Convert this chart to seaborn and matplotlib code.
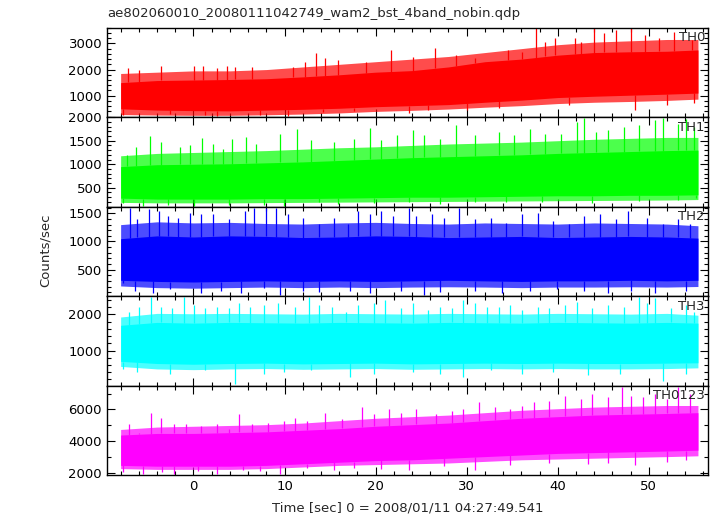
import numpy as np
import pandas as pd
import matplotlib
matplotlib.use("Agg")
import matplotlib.pyplot as plt
import seaborn as sns
from matplotlib.ticker import MultipleLocator

# ================== data ==================
# time grid [sec] for the envelopes of each light curve
grid_t = [-8, -4, 0, 4, 8, 12, 16, 20, 24, 28, 32, 36, 40, 44, 48, 52, 55.4]

# TH0: dense core, pale fringe, single spikes / dips
th0_top = [1500, 1580, 1600, 1620, 1650, 1720, 1800, 1900, 1960, 2100, 2300, 2400, 2550, 2650, 2680, 2700, 2750]
th0_bot = [500, 450, 430, 420, 450, 480, 520, 580, 620, 660, 750, 830, 930, 980, 1020, 1060, 1100]
th0_fr_top = [1850, 1900, 1950, 1950, 2000, 2100, 2200, 2300, 2400, 2500, 2650, 2800, 2950, 3050, 3100, 3150, 3150]
th0_fr_bot = [280, 260, 250, 250, 270, 300, 340, 400, 440, 490, 560, 620, 700, 750, 780, 820, 870]
th0_spike_t = [-7.18, -5.98, -3.62, 0.03, 1.10, 2.60, 3.67, 4.53, 6.46, 10.97, 12.26, 13.42, 14.40, 15.91,
               18.91, 21.70, 24.06, 26.55, 28.78, 30.93, 34.58, 36.08, 37.58, 38.65, 39.73, 41.87, 42.52,
               44.02, 45.09, 46.38, 48.09, 49.60, 51.10, 52.82, 54.75]
th0_spike_v = [2050, 1990, 2140, 2150, 2150, 2050, 2150, 2090, 2090, 2110, 2300, 2620, 2430, 2370,
               2300, 2750, 2490, 2810, 2560, 2460, 2750, 2680, 3570, 3070, 3190, 3220, 3070,
               3570, 3380, 3510, 3570, 3320, 3190, 3440, 3130]
th0_dip_t = [-7.7, -2.55, 1.31, 2.6, 7.32, 10.33, 14.19, 17.62, 23.63, 25.78, 30.07, 33.5, 41.23, 48.52, 51.96, 54.96]
th0_dip_v = [280, 300, 250, 215, 250, 215, 380, 405, 340, 470, 470, 530, 660, 470, 660, 720]

# TH1
th1_top = [950, 990, 1000, 1010, 1030, 1050, 1080, 1110, 1140, 1160, 1180, 1200, 1230, 1250, 1270, 1290, 1300]
th1_bot = [280, 260, 260, 260, 270, 270, 280, 290, 300, 300, 310, 320, 330, 330, 340, 340, 350]
th1_fr_top = [1180, 1230, 1250, 1270, 1290, 1320, 1350, 1370, 1400, 1430, 1450, 1470, 1500, 1530, 1550, 1570, 1570]
th1_fr_bot = [190, 180, 180, 180, 185, 190, 195, 200, 205, 210, 215, 220, 225, 230, 235, 240, 250]
th1_spike_t = [-7.27, -6.33, -4.78, -3.62, -1.48, -0.40, 0.97, 2.17, 3.24, 4.23, 5.82, 6.89, 9.47, 11.40,
               12.90, 15.48, 17.62, 19.34, 20.63, 22.34, 24.06, 25.35, 27.06, 28.78, 30.93, 33.50, 35.22,
               36.93, 38.65, 40.37, 42.09, 42.94, 44.23, 45.52, 47.24, 48.95, 50.67, 51.53, 53.25, 54.10, 54.96]
th1_spike_v = [1193, 1370, 1603, 1476, 1370, 1419, 1560, 1440, 1334, 1532, 1582, 1440, 1652, 1744,
               1511, 1476, 1546, 1773, 1511, 1617, 1723, 1617, 1546, 1829, 1617, 1688, 1617,
               1758, 1652, 1652, 1900, 1985, 1688, 1723, 1794, 1829, 1935, 1985, 1864, 1970, 1794]
th1_dip_t = [-7.7, -5.55, -2.76, 0.03, 3.89, 7.75, 9.9, 13.76, 15.91, 19.77, 23.63, 27.06, 30.93, 34.36,
             38.22, 43.8, 48.95, 53.25, 55.18]
th1_dip_v = [168, 118, 132, 110, 132, 132, 118, 189, 146, 168, 189, 146, 189, 203, 189, 168, 217, 238, 274]

# TH2
th2_top = [1050, 1100, 1080, 1100, 1090, 1070, 1080, 1100, 1090, 1070, 1080, 1090, 1070, 1080, 1090, 1080, 1060]
th2_bot = [310, 290, 280, 290, 300, 290, 300, 290, 300, 310, 300, 290, 300, 300, 310, 300, 310]
th2_fr_top = [1300, 1350, 1330, 1340, 1320, 1310, 1330, 1340, 1320, 1310, 1330, 1320, 1310, 1330, 1320, 1310, 1280]
th2_fr_bot = [210, 180, 170, 180, 190, 180, 190, 180, 190, 195, 190, 180, 190, 190, 195, 190, 200]
th2_spike_t = [-6.93, -6.2, -4.91, -3.84, -2.76, -1.69, -0.39, 0.88, 2.17, 3.89, 5.61, 6.68, 7.97, 9.04,
               10.33, 12.05, 13.76, 15.48, 16.98, 18.05, 19.34, 20.63, 21.91, 23.63, 24.49, 26.21, 27.49,
               29.21, 30.93, 32.64, 34.36, 36.08, 37.79, 39.51, 41.23, 42.94, 44.66, 46.38, 47.67, 49.81,
               51.53, 53.25, 54.53]
th2_spike_v = [1600, 1395, 1570, 1541, 1454, 1424, 1512, 1483, 1483, 1395, 1541, 1600, 1600, 1600,
               1483, 1424, 1307, 1424, 1307, 1541, 1483, 1541, 1454, 1600, 1454, 1483, 1424,
               1600, 1395, 1424, 1337, 1483, 1512, 1366, 1307, 1454, 1483, 1395, 1541, 1424,
               1307, 1395, 1307]
th2_dip_t = [-7.7, -6.41, -4.48, -2.55, 0.88, 3.03, 5.18, 7.75, 9.47, 12.05, 13.76, 17.19, 19.34, 22.77,
             25.35, 27.06, 30.93, 33.93, 36.93, 39.94, 42.94, 45.52, 48.09, 50.67, 54.10]
th2_dip_v = [254, 126, 79, 149, 90, 126, 79, 167, 50, 126, 108, 126, 79, 126, 50, 108, 126, 90, 126,
             149, 126, 79, 126, 90, 126]

# TH3
th3_top = [1700, 1780, 1760, 1780, 1770, 1760, 1780, 1770, 1760, 1780, 1770, 1760, 1780, 1770, 1760, 1780, 1760]
th3_bot = [700, 640, 620, 640, 650, 630, 640, 650, 630, 640, 650, 640, 650, 640, 640, 650, 660]
th3_fr_top = [1930, 2030, 2020, 2030, 2020, 2010, 2030, 2020, 2010, 2030, 2020, 2010, 2030, 2020, 2010, 2030, 1980]
th3_fr_bot = [560, 490, 470, 490, 500, 480, 490, 500, 480, 490, 500, 490, 500, 490, 490, 500, 520]
th3_spike_t = [-7.05, -5.98, -4.69, -3.62, -2.33, -1.05, 0.03, 1.31, 2.60, 3.89, 4.96, 6.25, 7.75, 9.25,
               11.18, 12.69, 13.76, 15.26, 16.76, 18.05, 19.77, 21.06, 22.77, 24.06, 25.78, 27.06, 28.35,
               29.64, 30.93, 32.21, 33.50, 34.79, 36.08, 37.79, 39.08, 40.80, 42.09, 43.80, 45.52, 47.24,
               48.95, 49.81, 50.67, 52.39, 54.10, 54.96]
th3_spike_v = [2074, 2213, 2491, 2213, 2167, 2491, 2259, 2167, 2213, 2167, 2306, 2213, 2259, 2306,
               2213, 2491, 2259, 2213, 2074, 2259, 2306, 2398, 2167, 2306, 2120, 2213, 2167,
               2398, 2306, 2213, 2213, 2259, 2120, 2213, 2167, 2259, 2352, 2167, 2259, 2213,
               2491, 2306, 2445, 2167, 2259, 2074]
th3_dip_t = [-7.7, -6.2, -2.55, 1.31, 4.53, 7.75, 9.9, 12.9, 17.19, 19.77, 24.06, 27.06, 29.64, 32.64,
             36.08, 39.51, 43.37, 46.81, 51.53, 54.10]
th3_dip_v = [500, 407, 361, 454, 65, 361, 407, 454, 268, 361, 407, 361, 268, 454, 361, 407, 315, 361, 157, 361]

# TH0123
th0123_top = [4400, 4500, 4500, 4550, 4600, 4700, 4800, 4950, 5050, 5150, 5300, 5450, 5550, 5650, 5700, 5750, 5800]
th0123_bot = [2500, 2450, 2450, 2450, 2500, 2600, 2700, 2800, 2850, 2950, 3050, 3150, 3250, 3300, 3350, 3400, 3450]
th0123_fr_top = [4750, 4900, 4950, 5000, 5050, 5150, 5300, 5450, 5550, 5650, 5800, 5950, 6050, 6150, 6200, 6250, 6250]
th0123_fr_bot = [2300, 2250, 2250, 2250, 2300, 2400, 2500, 2550, 2600, 2650, 2750, 2850, 2900, 2950, 3000, 3050, 3100]
th0123_spike_t = [-7.05, -5.98, -4.69, -3.62, -2.12, -0.83, 0.88, 2.60, 3.89, 4.96, 6.46, 8.18, 9.90, 11.18,
                  12.47, 14.40, 16.33, 18.48, 19.77, 21.49, 22.77, 24.49, 26.64, 28.35, 29.64, 31.36, 33.07,
                  34.79, 36.08, 37.36, 39.08, 40.80, 42.52, 43.80, 45.52, 47.02, 48.09, 49.38, 50.67, 51.96,
                  53.25, 54.53]
th0123_spike_v = [5073, 4547, 5810, 5494, 5073, 5073, 4968, 5073, 4758, 5705, 5073, 5179, 5284, 5494,
                  5284, 5810, 5389, 6126, 5705, 6021, 5810, 6021, 5705, 5915, 6021, 6442, 6126,
                  6021, 6231, 6442, 6547, 6863, 6652, 6968, 6757, 7389, 6863, 6757, 6968, 6652,
                  7389, 6968]
th0123_dip_t = [-7.7, -5.55, -3.41, -2.12, 0.45, 2.60, 5.39, 7.32, 9.47, 12.47, 15.48, 17.62, 20.63, 23.63,
                27.49, 30.93, 34.79, 39.08, 43.37, 45.52, 48.52, 51.96, 54.10]
th0123_dip_v = [2063, 1979, 2063, 1979, 2126, 1979, 2189, 2126, 1979, 2337, 2189, 2337, 2274, 2189,
                2442, 2189, 2547, 2653, 2610, 2653, 2547, 2695, 2863]

band_names = ["TH0", "TH1", "TH2", "TH3", "TH0123"]
band_colors = ["#ff0000", "#00ff00", "#0000ff", "#00ffff", "#ff00ff"]
band_ylims = [(180, 3600), (100, 2000), (30, 1620), (30, 2510), (1900, 7500)]
band_major = [1000, 500, 500, 1000, 2000]
band_minor = [200, 100, 100, 200, 1000]

cores = [(th0_top, th0_bot), (th1_top, th1_bot), (th2_top, th2_bot), (th3_top, th3_bot), (th0123_top, th0123_bot)]
fringes = [(th0_fr_top, th0_fr_bot), (th1_fr_top, th1_fr_bot), (th2_fr_top, th2_fr_bot),
           (th3_fr_top, th3_fr_bot), (th0123_fr_top, th0123_fr_bot)]
spikes = [(th0_spike_t, th0_spike_v), (th1_spike_t, th1_spike_v), (th2_spike_t, th2_spike_v),
          (th3_spike_t, th3_spike_v), (th0123_spike_t, th0123_spike_v)]
dips = [(th0_dip_t, th0_dip_v), (th1_dip_t, th1_dip_v), (th2_dip_t, th2_dip_v),
        (th3_dip_t, th3_dip_v), (th0123_dip_t, th0123_dip_v)]

# ================== plot ==================
sns.set_theme(style="ticks")
plt.rcParams["font.family"] = ["DejaVu Sans"]
plt.rcParams["font.size"] = 9.5

fig, axes = plt.subplots(5, 1, figsize=(7.17, 5.16), dpi=100, sharex=True)
fig.subplots_adjust(left=0.1492, right=0.9874, top=0.9463, bottom=0.0795, hspace=0)

for i, ax in enumerate(axes):
    col = band_colors[i]
    # fringe (thin anti-aliased excursions) and the dense core: min/max bands
    for (hi, lo), a in [(fringes[i], 0.7), (cores[i], 1.0)]:
        df = pd.DataFrame({"t": grid_t + grid_t, "rate": hi + lo})
        sns.lineplot(data=df, x="t", y="rate", ax=ax, color=col, linewidth=0,
                     errorbar=("pi", 100), err_kws={"alpha": a, "linewidth": 0})
    top, bot = cores[i]
    st, sv = spikes[i]
    ax.vlines(st, np.interp(st, grid_t, top), sv, color=col, linewidth=0.9)
    dt, dv = dips[i]
    ax.vlines(dt, dv, np.interp(dt, grid_t, bot), color=col, linewidth=0.9)

    ax.set_xlim(-9.5, 56.5)
    ax.set_ylim(*band_ylims[i])
    ax.xaxis.set_major_locator(MultipleLocator(10))
    ax.xaxis.set_minor_locator(MultipleLocator(2))
    ax.yaxis.set_major_locator(MultipleLocator(band_major[i]))
    ax.yaxis.set_minor_locator(MultipleLocator(band_minor[i]))
    ax.tick_params(which="both", direction="in", top=True, right=True, colors="black", labelsize=9.5)
    ax.tick_params(which="major", length=6, width=0.8)
    ax.tick_params(which="minor", length=3, width=0.8)
    ax.set_xlabel("")
    ax.set_ylabel("")
    for sp in ax.spines.values():
        sp.set_linewidth(1.0)
        sp.set_color("black")
    ax.text(0.995, 0.885, band_names[i], transform=ax.transAxes, ha="right", va="center", fontsize=9.5)

axes[-1].set_xlabel("Time [sec] 0 = 2008/01/11 04:27:49.541", fontsize=9.5, labelpad=6)
fig.text(0.063, 0.515, "Counts/sec", rotation=90, ha="center", va="center", fontsize=9.5)
fig.text(0.1492, 0.973, "ae802060010_20080111042749_wam2_bst_4band_nobin.qdp", ha="left", va="center", fontsize=9.5)

plt.savefig("out.png", dpi=100)
